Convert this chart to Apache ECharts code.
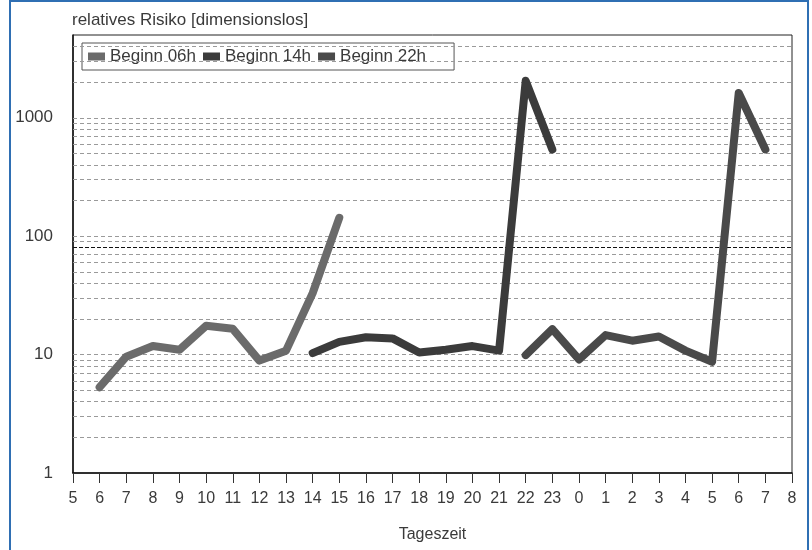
<!DOCTYPE html>
<html>
<head>
<meta charset="utf-8">
<script src="https://cdn.jsdelivr.net/npm/echarts@6/dist/echarts.min.js"></script>
<style>
  html, body { margin: 0; padding: 0; background: #fff; }
  .frame {
    position: absolute; left: 9px; top: 0; width: 796px; height: 560px;
    border: 2px solid #2f6fb3; border-bottom: none;
  }
  #chart { position: absolute; left: 0; top: 0; width: 812px; height: 550px; }
</style>
</head>
<body>
<div class="frame"></div>
<div id="chart"></div>
<script>
// Tageszeit (x ticks)
const hourLabels = ['5', '6', '7', '8', '9', '10', '11', '12', '13', '14', '15', '16', '17', '18', '19',
  '20', '21', '22', '23', '0', '1', '2', '3', '4', '5', '6', '7', '8']

// relatives Risiko per Schichtbeginn (null = kein Wert)
const beginn06 = [null, 5.3, 9.6, 11.8, 11, 17.5, 16.5, 8.9, 10.8, 33, 143,
  null, null, null, null, null, null, null, null, null, null, null, null, null, null, null, null, null]
const beginn14 = [null, null, null, null, null, null, null, null, null, 10.3, 12.8,
  14, 13.7, 10.4, 11, 11.8, 10.8, 2050, 540, null, null, null, null, null, null, null, null, null]
const beginn22 = [null, null, null, null, null, null, null, null, null, null, null,
  null, null, null, null, null, null, 9.9, 16.4, 9.1, 14.6, 13.1, 14.2, 10.8, 8.7, 1620, 540, null]

const seriesNames = ['Beginn 06h', 'Beginn 14h', 'Beginn 22h']
const yLabels = [1, 10, 100, 1000]
// dashed gridlines of the log scale
const gridValues = [2, 3, 4, 5, 6, 7, 8, 9, 10, 20, 30, 40, 50, 60, 70, 90, 100,
  200, 300, 400, 500, 600, 700, 800, 900, 1000, 2000, 3000, 4000]
const thresholdValue = 80

const chart = echarts.init(document.getElementById('chart'))

const lineSeries = (name, data, color) => ({
  name: name,
  type: 'line',
  data: data,
  z: 5,
  showSymbol: false,
  symbol: 'none',
  connectNulls: false,
  lineStyle: { width: 8, color: color, cap: 'round', join: 'round' },
  itemStyle: { color: color }
})

const option = {
  animation: false,
  textStyle: { fontFamily: 'Liberation Sans, Arial, sans-serif' },
  title: {
    text: 'relatives Risiko [dimensionslos]',
    left: 67,
    top: 7,
    textStyle: { fontSize: 17, fontWeight: 'normal', color: '#3a3a3a' }
  },
  legend: {
    data: seriesNames,
    left: 82,
    top: 43,
    padding: [5, 28, 5, 6],
    itemGap: 7,
    itemWidth: 17,
    itemHeight: 8,
    icon: 'rect',
    borderColor: '#555',
    borderWidth: 1,
    backgroundColor: '#fff',
    textStyle: { fontSize: 17, color: '#3a3a3a' }
  },
  grid: {
    left: 73, right: 20, top: 35, bottom: 77,
    show: true, borderColor: '#222', borderWidth: 1
  },
  xAxis: {
    type: 'category',
    data: hourLabels,
    boundaryGap: false,
    name: 'Tageszeit',
    nameLocation: 'middle',
    nameGap: 54,
    nameTextStyle: { fontSize: 16, color: '#3a3a3a' },
    axisLine: { lineStyle: { color: '#111', width: 1.5 } },
    axisTick: { show: true, length: 10, inside: false, interval: 0, lineStyle: { color: '#333' } },
    axisLabel: { interval: 0, fontSize: 16, color: '#3a3a3a', margin: 18 },
    splitLine: { show: false }
  },
  yAxis: {
    type: 'log',
    logBase: 10,
    min: 1,
    max: 5000,
    axisLine: { show: true, lineStyle: { color: '#111', width: 1.5 } },
    axisTick: { show: false },
    axisLabel: {
      fontSize: 17, color: '#3a3a3a', margin: 20, showMaxLabel: false,
      formatter: v => {
        const r = Math.round(v)
        return yLabels.indexOf(r) >= 0 && Math.abs(v - r) < 1e-6 * r ? String(r) : ''
      }
    },
    splitLine: { show: false },
    minorSplitLine: { show: false }
  },
  series: [
    {
      name: 'grid',
      type: 'line',
      data: [],
      z: 1,
      silent: true,
      markLine: {
        silent: true,
        symbol: ['none', 'none'],
        label: { show: false },
        animation: false,
        data: gridValues.map(v => ({
          yAxis: v,
          lineStyle: { color: '#9a9a9a', width: 1, type: [4, 3] }
        })).concat([{
          yAxis: thresholdValue,
          lineStyle: { color: '#111', width: 1, type: [4, 2] }
        }])
      }
    },
    lineSeries(seriesNames[0], beginn06, '#6b6b6b'),
    lineSeries(seriesNames[1], beginn14, '#3b3b3b'),
    lineSeries(seriesNames[2], beginn22, '#4a4a4a')
  ]
}

chart.setOption(option)
</script>
</body>
</html>
